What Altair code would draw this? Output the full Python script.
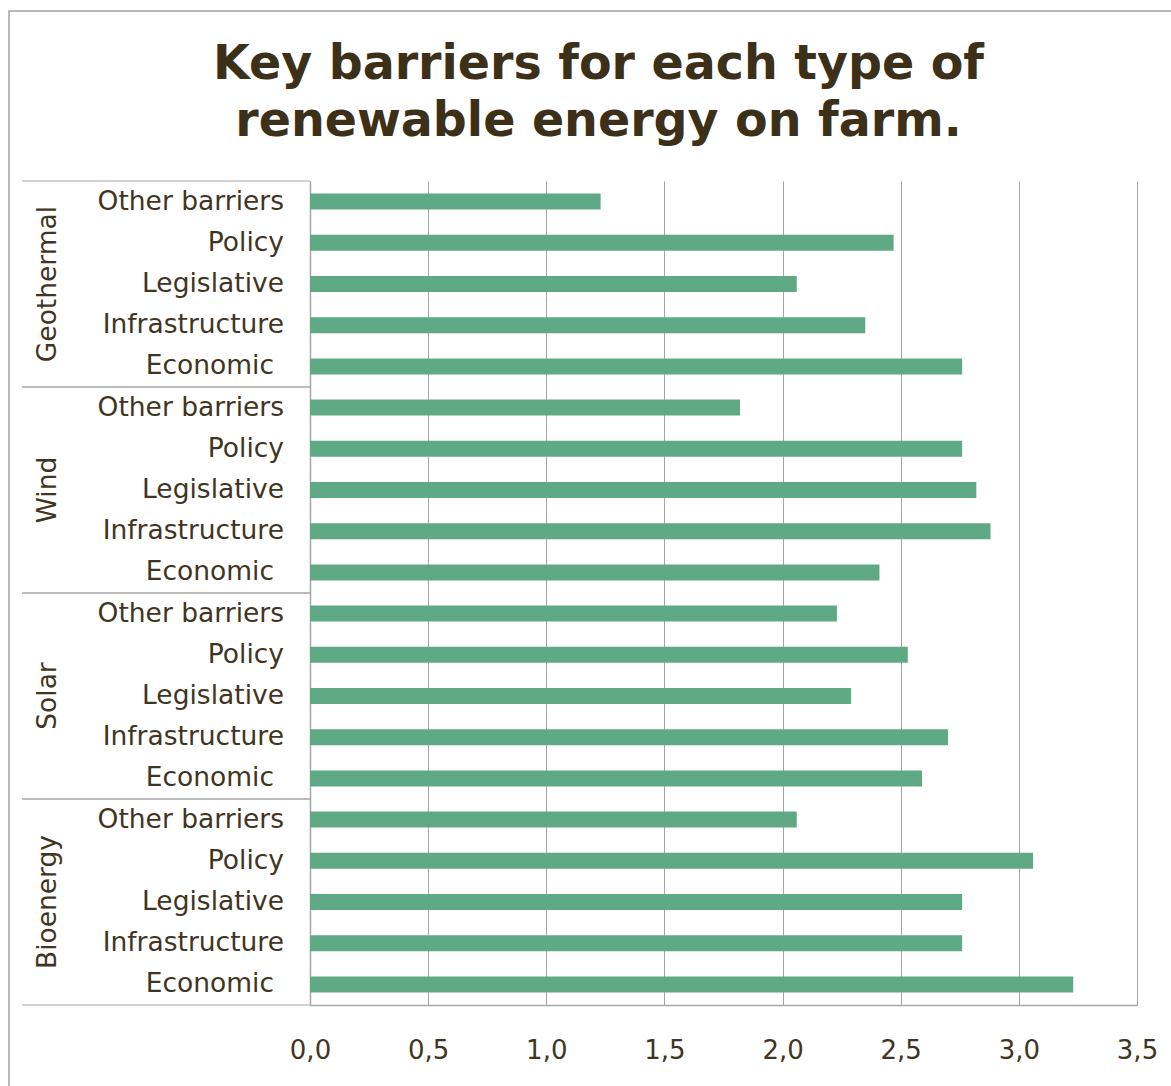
import altair as alt
import pandas as pd

groups = ["Geothermal", "Wind", "Solar", "Bioenergy"]
barriers = ["Other barriers", "Policy", "Legislative", "Infrastructure", "Economic"]
geothermal = [1.23, 2.47, 2.06, 2.35, 2.76]
wind = [1.82, 2.76, 2.82, 2.88, 2.41]
solar = [2.23, 2.53, 2.29, 2.70, 2.59]
bioenergy = [2.06, 3.06, 2.76, 2.76, 3.23]
x_ticks = [0.0, 0.5, 1.0, 1.5, 2.0, 2.5, 3.0, 3.5]
title_lines = ["Key barriers for each type of", "renewable energy on farm."]

series = {"Geothermal": geothermal, "Wind": wind, "Solar": solar, "Bioenergy": bioenergy}
rows = []
for g in groups:
    for i, b in enumerate(barriers):
        rows.append({"group": g, "barrier": b, "key": f"{g}|{b}", "value": series[g][i], "idx": i})
df = pd.DataFrame(rows)
order = list(df["key"])

TEXT = "#3f3522"
GRID = "#a6a6a6"
FONT = "DejaVu Sans"
FS = 26.5

W, H = 827, 824

yscale = alt.Scale(domain=order, paddingInner=0, paddingOuter=0)
Y = alt.Y("key:N", sort=order, scale=yscale)

base = alt.Chart(df)

bars = base.mark_bar(color="#60a985", size=16).encode(
    x=alt.X("value:Q",
            scale=alt.Scale(domain=[0, 3.5], nice=False, zero=True),
            axis=alt.Axis(values=x_ticks, title=None, grid=True, gridColor=GRID, gridWidth=1,
                          domainColor=GRID, domainWidth=1.5, ticks=False,
                          labelExpr="replace(format(datum.value, '.1f'), '.', ',')",
                          labelFont=FONT, labelFontSize=26, labelColor=TEXT,
                          labelPadding=32, labelFlush=False)),
    y=alt.Y("key:N", sort=order, scale=yscale,
            axis=alt.Axis(title=None, labels=False, ticks=False,
                          domainColor=GRID, domainWidth=1.5)),
)

row_labels = base.transform_filter("datum.idx < 4").mark_text(
    align="right", baseline="middle", font=FONT, fontSize=FS, color=TEXT
).encode(y=Y, x=alt.value(-26), text="barrier:N")

econ_labels = base.transform_filter("datum.idx == 4").mark_text(
    align="right", baseline="middle", font=FONT, fontSize=FS, color=TEXT
).encode(y=Y, x=alt.value(-36), text="barrier:N")

sep_top = base.transform_filter("datum.idx == 0").mark_rule(color=GRID, strokeWidth=1.2).encode(
    y=alt.Y("key:N", sort=order, scale=yscale, bandPosition=0),
    x=alt.value(-288), x2=alt.value(0),
)
sep_bot = base.transform_filter("datum.idx == 4").mark_rule(color=GRID, strokeWidth=1.2).encode(
    y=alt.Y("key:N", sort=order, scale=yscale, bandPosition=1),
    x=alt.value(-288), x2=alt.value(0),
)

group_labels = base.transform_filter("datum.idx == 2").mark_text(
    angle=270, align="center", baseline="middle", font=FONT, fontSize=FS, color=TEXT
).encode(y=Y, x=alt.value(-262), text="group:N")

frame = alt.Chart(pd.DataFrame({"a": [0]})).mark_rect(
    filled=False, stroke="#a0a0a0", strokeWidth=1.5
).encode(
    x=alt.value(-301), x2=alt.value(900), y=alt.value(-170), y2=alt.value(950)
)

chart = alt.layer(frame, bars, row_labels, econ_labels, sep_top, sep_bot, group_labels).properties(
    width=W, height=H,
    background="white",
    autosize=alt.AutoSizeParams(type="none"),
    padding={"left": 310, "top": 181, "right": 34, "bottom": 81},
    title=alt.TitleParams(text=title_lines, font=FONT, fontSize=47.5, fontWeight="bold",
                          color="#3d3019", anchor="middle", dx=-125, offset=0, dy=135,
                          lineHeight=57),
).configure_view(stroke=None)

chart.save("out.html", embed_options={"renderer": "svg", "actions": False})
